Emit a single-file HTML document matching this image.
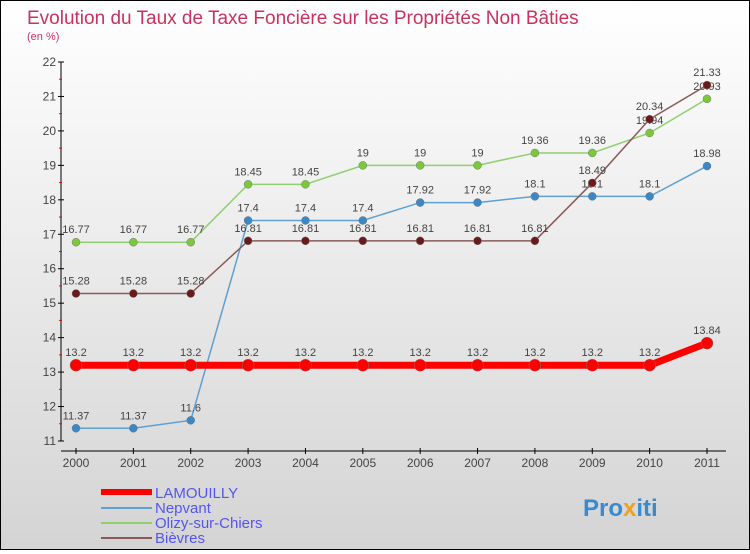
<!DOCTYPE html>
<html><head><meta charset="utf-8"><style>
body{margin:0}
#c{width:748px;height:548px;border:1px solid #000;background:linear-gradient(#fff,#d4d4d4);position:relative;font-family:"Liberation Sans",sans-serif}
</style></head><body>
<div id="c">
<svg width="748" height="548" id="s">
<text x="26" y="23" font-size="19" fill="#c8325e">Evolution du Taux de Taxe Foncière sur les Propriétés Non Bâties</text>
<text x="26" y="39" font-size="11" fill="#c8325e">(en %)</text>
<g id="axes"></g><g id="series"></g>
<g>
<line x1="100" y1="491" x2="151" y2="491" stroke="#f00" stroke-width="6"/>
<text x="154" y="497" font-size="15" fill="#5555ee">LAMOUILLY</text>
<line x1="100" y1="507" x2="151" y2="507" stroke="#5fa0d0" stroke-width="2"/>
<text x="154" y="512" font-size="15" fill="#5555ee">Nepvant</text>
<line x1="100" y1="522" x2="151" y2="522" stroke="#90d070" stroke-width="2"/>
<text x="154" y="527" font-size="15" fill="#5555ee">Olizy-sur-Chiers</text>
<line x1="100" y1="537" x2="151" y2="537" stroke="#8a5a5a" stroke-width="2"/>
<text x="154" y="542" font-size="15" fill="#5555ee">Bièvres</text>
</g>
<text x="582" y="515" font-size="24" font-weight="bold" fill="#3a8ad0">Pro<tspan fill="#f0a020">x</tspan>iti</text>
</svg></div>
<script>
const years=[2000,2001,2002,2003,2004,2005,2006,2007,2008,2009,2010,2011];
const yTicks=[11,12,13,14,15,16,17,18,19,20,21,22];
const lamouilly=[13.2,13.2,13.2,13.2,13.2,13.2,13.2,13.2,13.2,13.2,13.2,13.84];
const nepvant=[11.37,11.37,11.6,17.4,17.4,17.4,17.92,17.92,18.1,18.1,18.1,18.98];
const olizy=[16.77,16.77,16.77,18.45,18.45,19,19,19,19.36,19.36,19.94,20.93];
const bievres=[15.28,15.28,15.28,16.81,16.81,16.81,16.81,16.81,16.81,18.49,20.34,21.33];
const NS="http://www.w3.org/2000/svg";
const X=i=>75+i*(631/11);
const Y=v=>440-(v-11)*(379/11);
function mk(t,a,p){const e=document.createElementNS(NS,t);for(const k in a)e.setAttribute(k,a[k]);p.appendChild(e);return e;}
const ax=document.getElementById('axes');
let l=mk('line',{x1:60,y1:Y(22),x2:60,y2:440,stroke:'#000'},ax);


l=mk('line',{x1:60,y1:450,x2:725,y2:450,stroke:'#000'},ax);


yTicks.forEach(v=>{
 mk('line',{x1:57,x2:63,y1:Y(v),y2:Y(v),stroke:'#000'},ax);
 if(v<22)mk('line',{x1:58,x2:61,y1:Y(v+0.5),y2:Y(v+0.5),stroke:'#f00'},ax);
 const t=mk('text',{x:55,y:Y(v)+4,'font-size':12,fill:'#444','text-anchor':'end'},ax);t.textContent=v;
 
 
});
years.forEach((y,i)=>{
 mk('line',{x1:X(i),x2:X(i),y1:447,y2:453,stroke:'#000'},ax);
 const t=mk('text',{x:X(i),y:466,'font-size':12,fill:'#444','text-anchor':'middle'},ax);t.textContent=y;
 
 
});
const sg=document.getElementById('series');
function draw(vals,col,w,r,name,dot){
 const p=mk('polyline',{points:vals.map((v,i)=>X(i)+','+Y(v)).join(' '),fill:'none',stroke:col,'stroke-width':w},sg);
 
 
 vals.forEach((v,i)=>{
  const c=mk('circle',{cx:X(i),cy:Y(v),r:r,fill:dot,stroke:'#777','stroke-width':0.5},sg);
  
  
  const t=mk('text',{x:X(i),y:Y(v)-9,'font-size':11,fill:'#444','text-anchor':'middle'},sg);t.textContent=v;
  
  
 });
}
draw(nepvant,'#5fa0d0',1.5,4,'nepvant','#3a88c8');
draw(olizy,'#90d070',1.5,4,'olizy','#7cc83a');
draw(bievres,'#8a5a5a',1.5,4,'bievres','#6a1a1a');
draw(lamouilly,'#f00',7,6,'lamouilly','#f00');
</script>
</body></html>
